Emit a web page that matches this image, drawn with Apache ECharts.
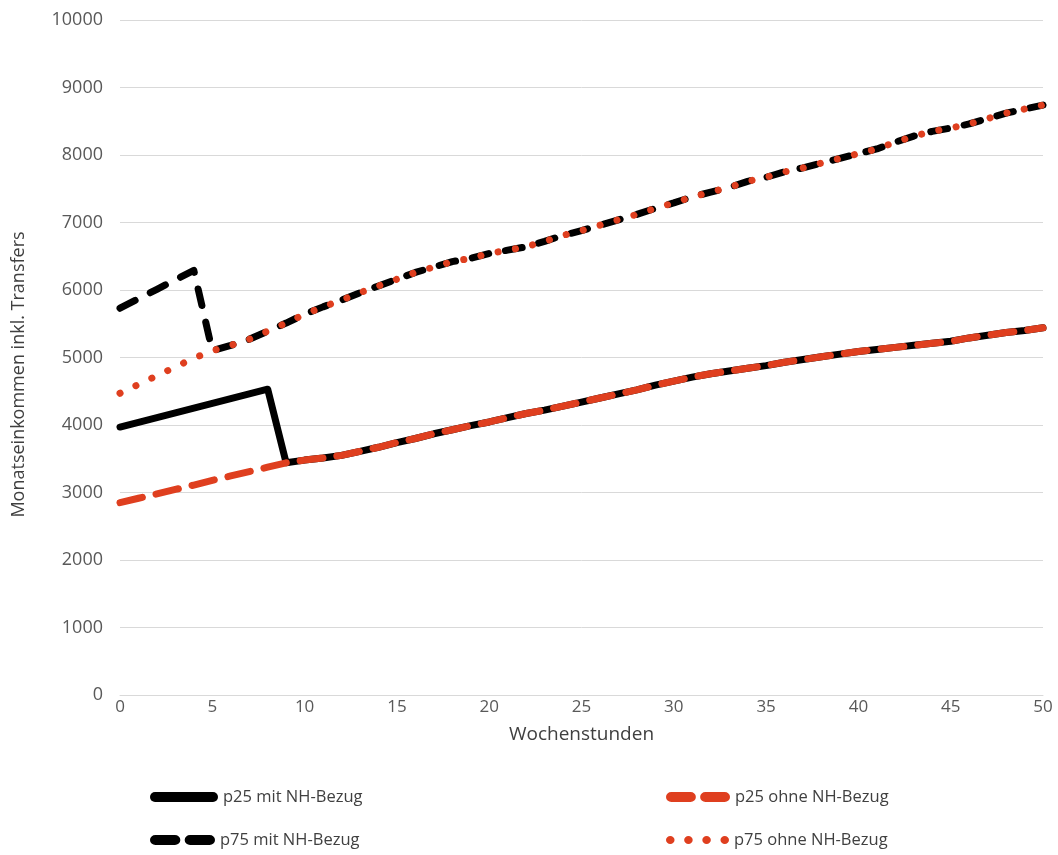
<!DOCTYPE html>
<html>
<head>
<meta charset="utf-8">
<script src="https://cdn.jsdelivr.net/npm/echarts@6/dist/echarts.min.js"></script>
<style>
  html, body { margin: 0; padding: 0; background: #ffffff; }
  #chart { width: 1058px; height: 855px; }
</style>
</head>
<body>
<div id="chart"></div>
<script>
// Wochenstunden 0..50
const hours = [0,1,2,3,4,5,6,7,8,9,10,11,12,13,14,15,16,17,18,19,20,21,22,23,24,25,
               26,27,28,29,30,31,32,33,34,35,36,37,38,39,40,41,42,43,44,45,46,47,48,49,50];

// p25 ohne NH-Bezug (red dashed), hours 0..50
const p25Ohne = [2850,2915,2980,3045,3110,3180,3245,3310,3375,3440,3480,3510,3550,3610,3670,
                 3740,3800,3870,3930,3990,4045,4110,4170,4220,4280,4340,4400,4460,4520,4590,
                 4650,4710,4760,4800,4840,4880,4930,4970,5010,5050,5090,5120,5150,5180,5210,
                 5240,5290,5330,5370,5400,5440];

// p75 ohne NH-Bezug (red dotted), hours 0..50
const p75Ohne = [4470,4600,4730,4860,4990,5100,5180,5270,5390,5510,5640,5750,5850,5960,6060,
                 6160,6260,6340,6420,6470,6540,6590,6640,6720,6810,6880,6960,7040,7120,7210,
                 7290,7380,7450,7520,7610,7670,7750,7810,7880,7950,8020,8090,8190,8280,8350,
                 8400,8460,8540,8620,8680,8740];

// p25 mit NH-Bezug: own values for hours 0..8, identical to p25 ohne from hour 9 on
const p25MitHead = [3970,4040,4110,4180,4250,4320,4390,4460,4530];
// p75 mit NH-Bezug: own values for hours 0..4, identical to p75 ohne from hour 5 on
const p75MitHead = [5730,5870,6010,6150,6290];

const p25Mit = p25MitHead.concat(p25Ohne.slice(p25MitHead.length));
const p75Mit = p75MitHead.concat(p75Ohne.slice(p75MitHead.length));

const seriesNames = ['p25 mit NH-Bezug', 'p25 ohne NH-Bezug', 'p75 mit NH-Bezug', 'p75 ohne NH-Bezug'];
const yTicks = { min: 0, max: 10000, interval: 1000 };
const xTicks = { min: 0, max: 50, interval: 5 };

const pairs = arr => hours.map((h, i) => [h, arr[i]]);

const BLACK = '#000000';
const RED = '#df3f1f';
const FONT = "'Open Sans', 'DejaVu Sans', sans-serif";

// legend icon shapes (rounded bars / dots)
const ICON_SOLID = 'path://M5,0L63,0A5,5,0,0,1,63,10L5,10A5,5,0,0,1,5,0Z';
const ICON_DASH = 'path://M5,0L23,0A5,5,0,0,1,23,10L5,10A5,5,0,0,1,5,0Z' +
                  'M37,0L55,0A5,5,0,0,1,55,10L37,10A5,5,0,0,1,37,0Z';
const ICON_DOTS = 'path://M0,4A4,4,0,1,0,8,4A4,4,0,1,0,0,4Z' +
                  'M17,4A4,4,0,1,0,25,4A4,4,0,1,0,17,4Z' +
                  'M34,4A4,4,0,1,0,42,4A4,4,0,1,0,34,4Z' +
                  'M51,4A4,4,0,1,0,59,4A4,4,0,1,0,51,4Z';

function legendItem(name, icon, left, top, w, h) {
  return {
    data: [{ name: name, icon: icon }],
    left: left, top: top, padding: 0,
    itemWidth: w, itemHeight: h,
    symbolKeepAspect: false,
    itemStyle: { borderWidth: 0 },
    selectedMode: false,
    textStyle: { fontFamily: FONT, fontSize: 16.5, color: '#404040', lineHeight: 20 }
  };
}

const chart = echarts.init(document.getElementById('chart'), null, { renderer: 'canvas' });

chart.setOption({
  animation: false,
  backgroundColor: '#ffffff',
  grid: { left: 120, right: 15, top: 20, bottom: 160, containLabel: false },
  xAxis: {
    type: 'value',
    min: xTicks.min, max: xTicks.max, interval: xTicks.interval,
    name: 'Wochenstunden',
    nameLocation: 'middle',
    nameGap: 30,
    nameTextStyle: { fontFamily: FONT, fontSize: 19, color: '#404040' },
    axisLine: { show: true, lineStyle: { color: '#d9d9d9', width: 1 } },
    axisTick: { show: false },
    splitLine: { show: false },
    axisLabel: { fontFamily: FONT, fontSize: 17, color: '#595959', margin: 4 }
  },
  yAxis: {
    type: 'value',
    min: yTicks.min, max: yTicks.max, interval: yTicks.interval,
    name: 'Monatseinkommen inkl. Transfers',
    nameLocation: 'middle',
    nameGap: 92,
    nameRotate: 90,
    nameTextStyle: { fontFamily: FONT, fontSize: 18, color: '#404040', padding: [0, 34, 0, 0] },
    axisLine: { show: false },
    axisTick: { show: false },
    splitLine: { show: true, lineStyle: { color: '#d9d9d9', width: 1 } },
    axisLabel: {
      fontFamily: FONT, fontSize: 18, color: '#595959', margin: 17,
      formatter: v => String(v)
    }
  },
  legend: [
    legendItem(seriesNames[0], ICON_SOLID, 150, 787, 68, 10),
    legendItem(seriesNames[2], ICON_DASH, 150, 830, 65, 10),
    legendItem(seriesNames[1], ICON_DASH, 666, 787, 64, 10),
    legendItem(seriesNames[3], ICON_DOTS, 666, 830, 63, 8)
  ],
  series: [
    {
      name: seriesNames[0], type: 'line', data: pairs(p25Mit),
      symbol: 'none', showSymbol: false, z: 2,
      lineStyle: { color: BLACK, width: 7, type: 'solid', cap: 'round', join: 'round' },
      itemStyle: { color: BLACK }
    },
    {
      name: seriesNames[2], type: 'line', data: pairs(p75Mit),
      symbol: 'none', showSymbol: false, z: 2,
      lineStyle: { color: BLACK, width: 7, type: [17, 17], cap: 'round', join: 'round' },
      itemStyle: { color: BLACK }
    },
    {
      name: seriesNames[1], type: 'line', data: pairs(p25Ohne),
      symbol: 'none', showSymbol: false, z: 3,
      lineStyle: { color: RED, width: 7, type: [23, 14], cap: 'round', join: 'round' },
      itemStyle: { color: RED }
    },
    {
      name: seriesNames[3], type: 'line', data: pairs(p75Ohne),
      symbol: 'none', showSymbol: false, z: 3,
      lineStyle: { color: RED, width: 7, type: [0.1, 17.5], cap: 'round', join: 'round' },
      itemStyle: { color: RED }
    }
  ]
});
</script>
</body>
</html>
